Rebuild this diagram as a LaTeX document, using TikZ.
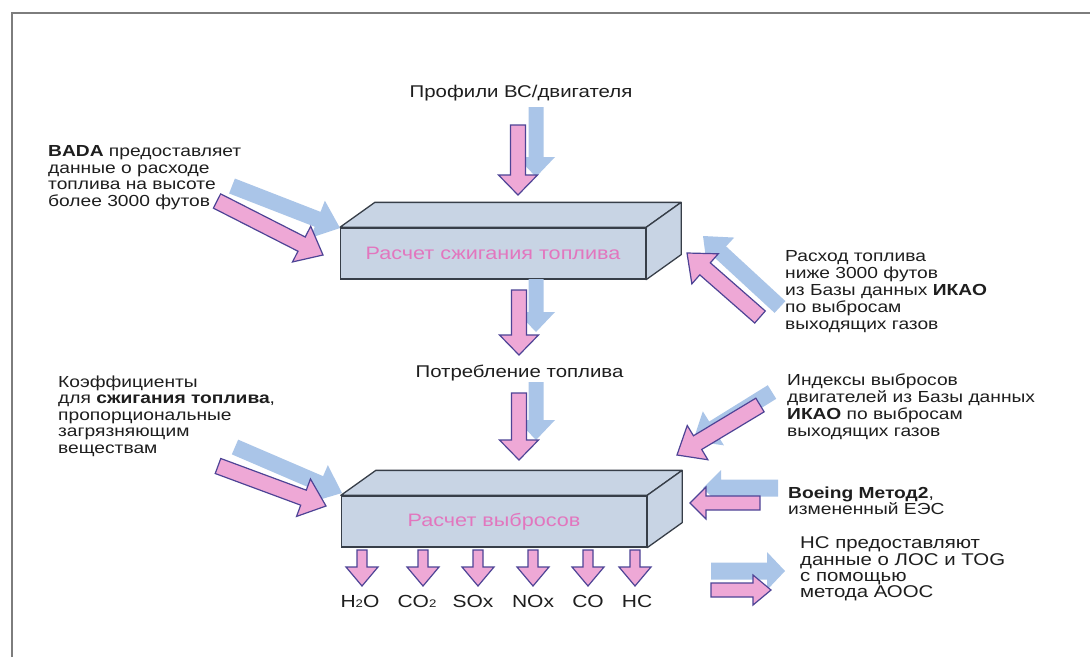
\documentclass[tikz,border=0pt]{standalone}
\usepackage{fontspec}
\setmainfont[FakeStretch=1.2]{Liberation Sans}
\usetikzlibrary{calc}
\definecolor{pinkF}{RGB}{238,168,214}
\definecolor{pinkE}{RGB}{78,68,150}
\definecolor{blueF}{RGB}{170,197,232}
\definecolor{boxF}{RGB}{200,212,228}
\definecolor{boxE}{RGB}{55,62,72}
\definecolor{boxT}{RGB}{226,118,190}
\definecolor{txt}{RGB}{30,30,30}
\definecolor{framec}{RGB}{125,125,125}
\newcommand{\barr}[6]{%
  \coordinate (barrC) at ($(#3)!#6!(#2)$);
  \path[#1] ($(#2)!#4!90:(#3)$) -- ($(barrC)!#4!90:(#3)$) -- ($(barrC)!#5!90:(#3)$) -- (#3)
    -- ($(barrC)!#5!-90:(#3)$) -- ($(barrC)!#4!-90:(#3)$) -- ($(#2)!#4!-90:(#3)$) -- cycle;}
\newcommand{\lsub}[1]{{\fontsize{11}{11}\selectfont #1}}
\begin{document}
\begin{tikzpicture}[x=1pt,y=-1pt,
  pinkarr/.style={fill=pinkF, draw=pinkE, line width=1.2pt, line join=miter},
  bluearr/.style={fill=blueF},
  boxfront/.style={draw=boxE, fill=boxF, line width=1.3pt, minimum width=305pt, minimum height=51pt, inner sep=0pt, text=boxT, font=\fontsize{18}{18}\selectfont},
  boxside/.style={draw=boxE, fill=boxF, line width=1.3pt, line join=round},
  desc/.style={anchor=north west, inner sep=0pt, align=left, text=txt, font=\fontsize{16}{16.5}\selectfont},
  title/.style={anchor=base, inner sep=0pt, text=txt, font=\fontsize{17}{17}\selectfont},
  gas/.style={anchor=base, inner sep=0pt, text=txt, font=\fontsize{17.5}{17.5}\selectfont}]
\useasboundingbox (0,0) rectangle (1090,657);
\fill[white] (0,0) rectangle (1090,657);
\draw[framec, line width=2pt] (11.5,657) -- (11.5,12.5) -- (1090,12.5);

% boxes
\node[boxfront] (box1) at (493,253.5) {Расчет сжигания топлива};
\filldraw[boxside] (box1.north west) -- ++(35,-25) -- ($(box1.north east)+(35,-25)$) -- (box1.north east) -- cycle;
\filldraw[boxside] (box1.north east) -- ++(35,-25) -- ($(box1.south east)+(35,-25)$) -- (box1.south east) -- cycle;
\node[boxfront] (box2) at (494,521.5) {Расчет выбросов};
\filldraw[boxside] (box2.north west) -- ++(35,-25) -- ($(box2.north east)+(35,-25)$) -- (box2.north east) -- cycle;
\filldraw[boxside] (box2.north east) -- ++(35,-25) -- ($(box2.south east)+(35,-25)$) -- (box2.south east) -- cycle;

% texts
\node[title] (t1) at (521,97) {Профили ВС/двигателя};
\node[title] (t2) at (519.5,377) {Потребление топлива};
\node[desc] (bada) at (48,145.4) {\textbf{BADA} предоставляет\\данные о расходе\\топлива на высоте\\более 3000 футов};
\node[desc, font=\fontsize{16}{17}\selectfont] (rashod) at (785,250.4) {Расход топлива\\ниже 3000 футов\\из Базы данных \textbf{ИКАО}\\по выбросам\\выходящих газов};
\node[desc] (koef) at (58,375.4) {Коэффициенты\\для \textbf{сжигания топлива},\\пропорциональные\\загрязняющим\\веществам};
\node[desc, font=\fontsize{16}{17}\selectfont] (index) at (787,373.4) {Индексы выбросов\\двигателей из Базы данных\\\textbf{ИКАО} по выбросам\\выходящих газов};
\node[desc] (boeing) at (788,486.4) {\textbf{Boeing Метод2},\\измененный ЕЭС};
\node[desc, font=\fontsize{17}{16.2}\selectfont] (hc) at (800,536.8) {НС предоставляют\\данные о ЛОС и TOG\\с помощью\\метода АООС};

% arrow end points
\coordinate (a1s) at (518,125); \coordinate (a1e) at (518,195);
\coordinate (b1s) at (536,107); \coordinate (b1e) at (536,177);
\coordinate (a2s) at (519,290); \coordinate (a2e) at (519,355);
\coordinate (b2s) at (536,279); \coordinate (b2e) at (536,332);
\coordinate (a3s) at (519,393); \coordinate (a3e) at (519,460);
\coordinate (b3s) at (536,382); \coordinate (b3e) at (536,440);
\coordinate (a4s) at (217,201); \coordinate (a4e) at (323,255);
\coordinate (b4s) at (232,186); \coordinate (b4e) at (340,228);
\coordinate (a5s) at (218,466); \coordinate (a5e) at (326,506);
\coordinate (b5s) at (235,447); \coordinate (b5e) at (342,493);
\coordinate (a6s) at (760,317); \coordinate (a6e) at (687,253);
\coordinate (b6s) at (780,307); \coordinate (b6e) at (703,236);
\coordinate (a7s) at (760,405); \coordinate (a7e) at (677,455);
\coordinate (b7s) at (772,392); \coordinate (b7e) at (693,441);
\coordinate (a8s) at (760,503); \coordinate (a8e) at (690,503);
\coordinate (b8s) at (778,488); \coordinate (b8e) at (703,488);
\coordinate (a9s) at (711,590); \coordinate (a9e) at (771,590);
\coordinate (b9s) at (711,571); \coordinate (b9e) at (785,571);

% blue shadow arrows
\barr{bluearr}{b1s}{b1e}{7.5pt}{19pt}{20pt}
\barr{bluearr}{b2s}{b2e}{7.5pt}{19pt}{20pt}
\barr{bluearr}{b3s}{b3e}{7.5pt}{19pt}{20pt}
\barr{bluearr}{b4s}{b4e}{8pt}{20pt}{24pt}
\barr{bluearr}{b5s}{b5e}{8pt}{20pt}{24pt}
\barr{bluearr}{b6s}{b6e}{8pt}{20pt}{24pt}
\barr{bluearr}{b7s}{b7e}{8pt}{20pt}{24pt}
\barr{bluearr}{b8s}{b8e}{8.5pt}{18pt}{18pt}
\barr{bluearr}{b9s}{b9e}{8.5pt}{19pt}{18pt}
% pink arrows
\barr{pinkarr}{a1s}{a1e}{7.5pt}{19.5pt}{20pt}
\barr{pinkarr}{a2s}{a2e}{7.5pt}{19.5pt}{20pt}
\barr{pinkarr}{a3s}{a3e}{7.5pt}{19.5pt}{20pt}
\barr{pinkarr}{a4s}{a4e}{8pt}{20pt}{24pt}
\barr{pinkarr}{a5s}{a5e}{8pt}{20pt}{24pt}
\barr{pinkarr}{a6s}{a6e}{8pt}{20pt}{24pt}
\barr{pinkarr}{a7s}{a7e}{8pt}{20pt}{24pt}
\barr{pinkarr}{a8s}{a8e}{7pt}{16pt}{16pt}
\barr{pinkarr}{a9s}{a9e}{7pt}{15pt}{18pt}

% gas outputs
\foreach \gx/\gn in {362/g1,423/g2,478/g3,533/g4,588/g5,635/g6}{
  \coordinate (\gn s) at (\gx,550); \coordinate (\gn e) at (\gx,586);
  \barr{pinkarr}{\gn s}{\gn e}{5pt}{16pt}{19pt}
}
\node[gas] (h2o) at (360,607) {H\lsub{2}O};
\node[gas] (co2) at (417,607) {CO\lsub{2}};
\node[gas] (sox) at (473,607) {SOx};
\node[gas] (nox) at (533,607) {NOx};
\node[gas] (co) at (588,607) {CO};
\node[gas] (hcl) at (637,607) {HC};
\end{tikzpicture}
\end{document}
